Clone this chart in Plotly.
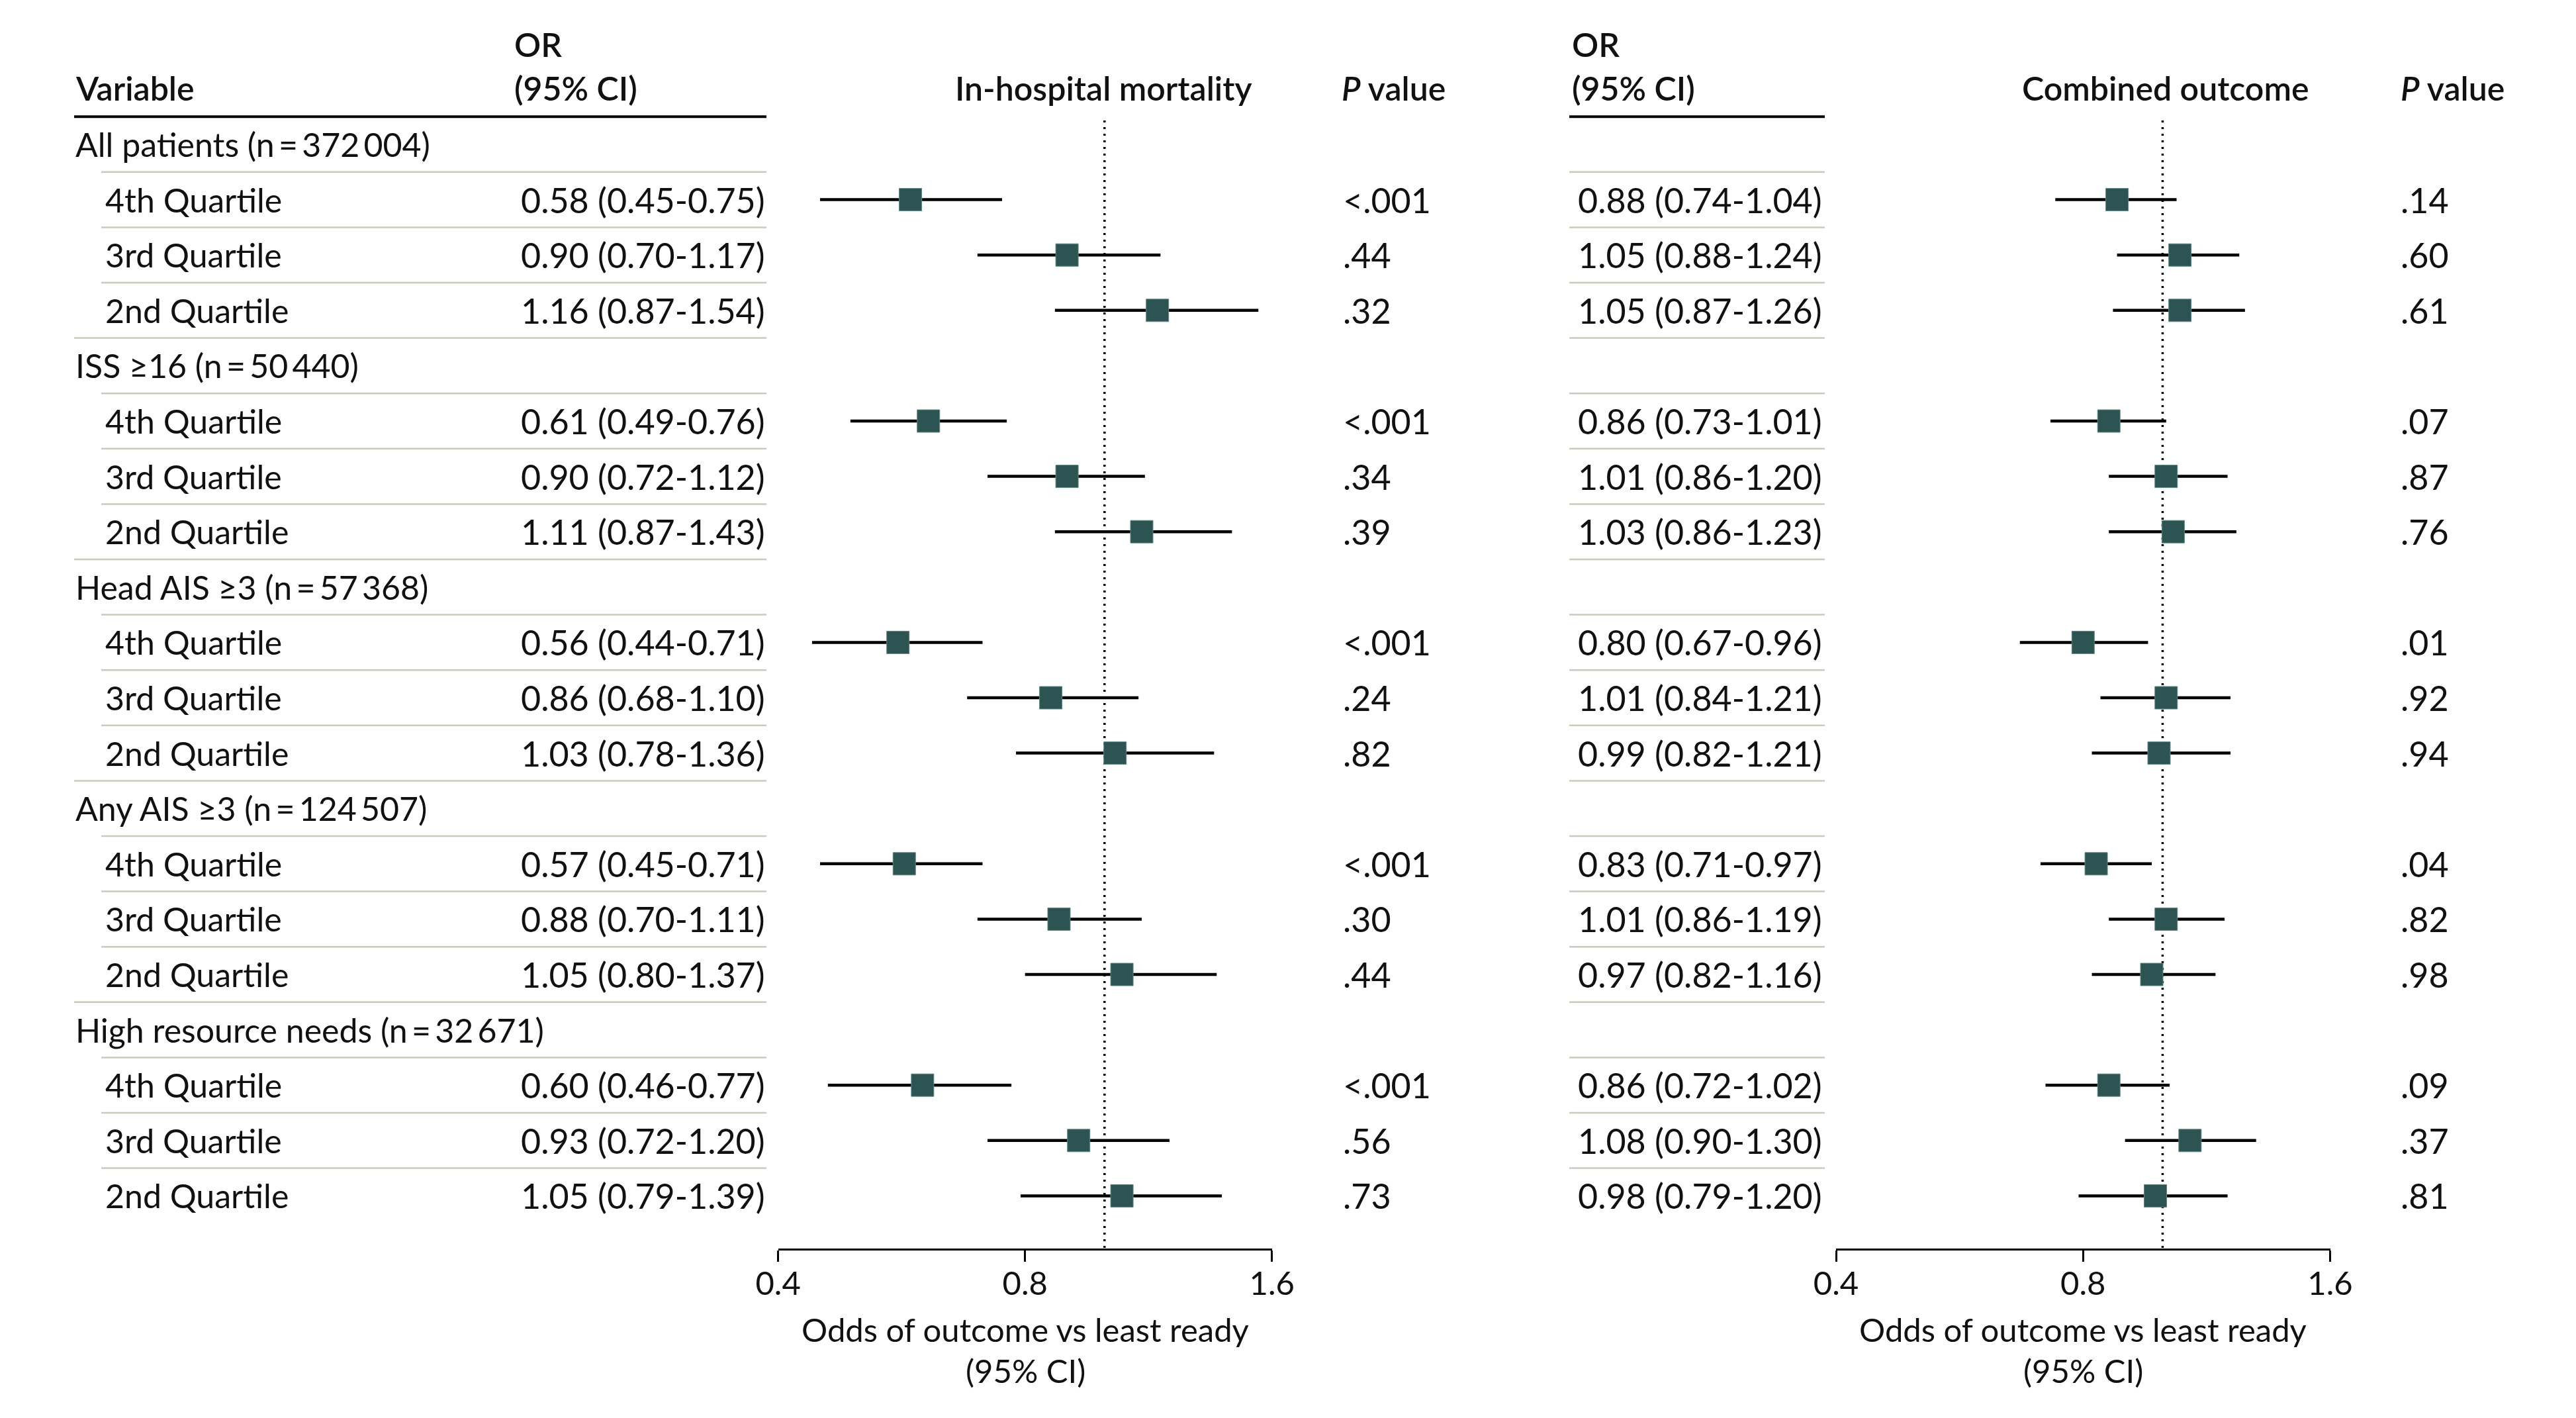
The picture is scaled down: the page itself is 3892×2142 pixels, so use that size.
import math
import plotly.graph_objects as go

# ---------------- data ----------------
groups = [
    "All patients (n\u2009=\u2009372\u2009004)",
    "ISS \u226516 (n\u2009=\u200950\u2009440)",
    "Head AIS \u22653 (n\u2009=\u200957\u2009368)",
    "Any AIS \u22653 (n\u2009=\u2009124\u2009507)",
    "High resource needs (n\u2009=\u200932\u2009671)",
]
quartiles = ["4th Quartile", "3rd Quartile", "2nd Quartile"]

mort_or = [0.58, 0.90, 1.16, 0.61, 0.90, 1.11, 0.56, 0.86, 1.03, 0.57, 0.88, 1.05, 0.60, 0.93, 1.05]
mort_lo = [0.45, 0.70, 0.87, 0.49, 0.72, 0.87, 0.44, 0.68, 0.78, 0.45, 0.70, 0.80, 0.46, 0.72, 0.79]
mort_hi = [0.75, 1.17, 1.54, 0.76, 1.12, 1.43, 0.71, 1.10, 1.36, 0.71, 1.11, 1.37, 0.77, 1.20, 1.39]
mort_p = ["<.001", ".44", ".32", "<.001", ".34", ".39", "<.001", ".24", ".82",
          "<.001", ".30", ".44", "<.001", ".56", ".73"]

comb_or = [0.88, 1.05, 1.05, 0.86, 1.01, 1.03, 0.80, 1.01, 0.99, 0.83, 1.01, 0.97, 0.86, 1.08, 0.98]
comb_lo = [0.74, 0.88, 0.87, 0.73, 0.86, 0.86, 0.67, 0.84, 0.82, 0.71, 0.86, 0.82, 0.72, 0.90, 0.79]
comb_hi = [1.04, 1.24, 1.26, 1.01, 1.20, 1.23, 0.96, 1.21, 1.21, 0.97, 1.19, 1.16, 1.02, 1.30, 1.20]
comb_p = [".14", ".60", ".61", ".07", ".87", ".76", ".01", ".92", ".94",
          ".04", ".82", ".98", ".09", ".37", ".81"]

x_ticks = [0.4, 0.8, 1.6]
ref_value = 1.0
panel_titles = ["In-hospital mortality", "Combined outcome"]
x_title_lines = ["Odds of outcome vs least ready", "(95% CI)"]

# ---------------- layout geometry (page pixels) ----------------
W, H = 3892, 2142
OFF = 8.0                      # page offset of the plot div
ROW0, DY, AXIS_PX = 218.0, 83.6, 1886.0
FONT = "Lato, 'Open Sans', 'Liberation Sans', sans-serif"
FS = 50
FS_NUM = 52
TXT = "#111111"
SQ = "#2b5452"
GRID = "#c9ccbc"


def ry(px):
    """data-y value of a page pixel row"""
    return (px - ROW0) / DY


def fx(px):
    return (px - OFF) / W


def fy(px):
    return 1 - (px - OFF) / H


n_rows = len(groups) * (1 + len(quartiles))
row_of = []
for g in range(len(groups)):
    for q in range(len(quartiles)):
        row_of.append(g * 4 + 1 + q)

fig = go.Figure()

panels = [
    dict(xa="x", ors=mort_or, los=mort_lo, his=mort_hi),
    dict(xa="x2", ors=comb_or, los=comb_lo, his=comb_hi),
]
for p in panels:
    fig.add_trace(go.Scatter(
        x=[ref_value, ref_value], y=[ry(182), ry(AXIS_PX)], xaxis=p["xa"], yaxis="y",
        mode="lines", line=dict(color="black", width=3.5, dash="3px,7px"),
        hoverinfo="skip", showlegend=False))
    cx, cy = [], []
    for lo, hi, r in zip(p["los"], p["his"], row_of):
        cx += [lo, hi, None]
        cy += [r, r, None]
    fig.add_trace(go.Scatter(
        x=cx, y=cy, xaxis=p["xa"], yaxis="y", mode="lines",
        line=dict(color="black", width=4.5), hoverinfo="skip", showlegend=False))
    fig.add_trace(go.Scatter(
        x=p["ors"], y=row_of, xaxis=p["xa"], yaxis="y", mode="markers",
        marker=dict(symbol="square", size=34, color=SQ,
                    line=dict(color="#5f8a87", width=1)),
        showlegend=False))

ann = []


def add_text(text, x, y, xanchor="left", bold=False, yref="y", size=FS):
    ann.append(dict(
        text=text, x=fx(x), y=y, xref="paper", yref=yref, xanchor=xanchor,
        yanchor="middle", showarrow=False,
        font=dict(family=FONT, size=size, color=TXT, weight=600 if bold else 400)))


# headers
HY1, HY2 = ry(67), ry(133)
add_text("Variable", 112, HY2, bold=True)
for xo in (775, 2373):
    add_text("OR", xo, HY1, bold=True)
    add_text("(95% CI)", xo, HY2, bold=True)
add_text(panel_titles[0], 1667, HY2, xanchor="center", bold=True)
add_text(panel_titles[1], 3271, HY2, xanchor="center", bold=True)
for xp in (2025, 3625):
    add_text("<i>P</i> value", xp, HY2, bold=True)

# rows
for g, name in enumerate(groups):
    add_text(name, 112, g * 4)
k = 0
for g in range(len(groups)):
    for q, qn in enumerate(quartiles):
        r = row_of[k]
        add_text(qn, 157, r)
        add_text(f"{mort_or[k]:.2f} ({mort_lo[k]:.2f}-{mort_hi[k]:.2f})", 1158, r,
                 xanchor="right", size=FS_NUM)
        add_text(mort_p[k].replace("<", "&lt;"), 2027, r, size=FS_NUM)
        add_text(f"{comb_or[k]:.2f} ({comb_lo[k]:.2f}-{comb_hi[k]:.2f})", 2755, r,
                 xanchor="right", size=FS_NUM)
        add_text(comb_p[k].replace("<", "&lt;"), 3625, r, size=FS_NUM)
        k += 1

# axis titles
for cx in (1549, 3147):
    for line_txt, ypx in zip(x_title_lines, (2008, 2070)):
        ann.append(dict(text=line_txt, x=fx(cx), y=fy(ypx),
                        xref="paper", yref="paper", xanchor="center", yanchor="middle",
                        showarrow=False, font=dict(family=FONT, size=49, color=TXT)))

# table lines
shapes = []
for xs, xe in ((112, 1158), (2371, 2757)):
    shapes.append(dict(type="line", xref="paper", yref="y", x0=fx(xs), x1=fx(xe),
                       y0=-0.5, y1=-0.5, line=dict(color="black", width=4)))
for r in range(1, n_rows):
    is_group = (r % 4 == 0)
    xs = 112 if is_group else 153
    shapes.append(dict(type="line", xref="paper", yref="y", x0=fx(xs), x1=fx(1158),
                       y0=r - 0.5, y1=r - 0.5, line=dict(color=GRID, width=2.5)))
    shapes.append(dict(type="line", xref="paper", yref="y", x0=fx(2371), x1=fx(2757),
                       y0=r - 0.5, y1=r - 0.5, line=dict(color=GRID, width=2.5)))

axis_common = dict(
    type="log", range=[math.log10(x_ticks[0]), math.log10(x_ticks[-1])],
    tickvals=x_ticks, ticktext=[f"{v:g}" for v in x_ticks],
    showline=True, linecolor="black", linewidth=3,
    ticks="outside", ticklen=17, tickwidth=3, tickcolor="black",
    showgrid=False, zeroline=False, anchor="y", automargin=False,
    tickfont=dict(family=FONT, size=49, color=TXT), ticklabelstandoff=-9,
)

fig.update_layout(
    width=W, height=H, margin=dict(l=0, r=0, t=0, b=0, autoexpand=False),
    paper_bgcolor="white", plot_bgcolor="white",
    xaxis=dict(domain=[fx(1175.6), fx(1921.8)], **axis_common),
    xaxis2=dict(domain=[fx(2774), fx(3520.5)], **axis_common),
    yaxis=dict(domain=[fy(AXIS_PX), 1],
               range=[ry(AXIS_PX), ry(OFF)],
               visible=False, fixedrange=True, automargin=False),
    annotations=ann, shapes=shapes, showlegend=False,
    font=dict(family=FONT, color=TXT),
)

fig.write_html("out.html")
